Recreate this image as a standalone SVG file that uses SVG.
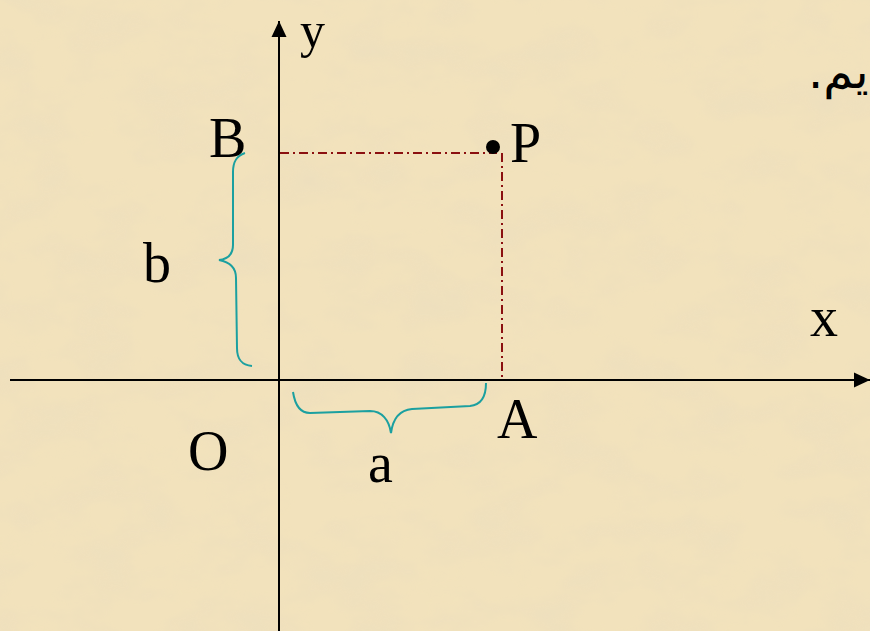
<svg xmlns="http://www.w3.org/2000/svg" width="870" height="631" viewBox="0 0 870 631">
<defs>
<filter id="paper" x="0" y="0" width="100%" height="100%">
<feTurbulence type="fractalNoise" baseFrequency="0.015 0.025" numOctaves="4" seed="7" result="n"/>
<feColorMatrix in="n" type="matrix" values="0 0 0 0 0.82  0 0 0 0 0.72  0 0 0 0 0.52  0 0 0 1.4 -0.55" result="c"/>
<feComposite in="c" in2="SourceGraphic" operator="in"/>
</filter>
<marker id="arrow" viewBox="0 0 16 16" refX="16" refY="8" markerWidth="16" markerHeight="16" markerUnits="userSpaceOnUse" orient="auto">
<path d="M0,0.5 L16,8 L0,15.5 Z" fill="#000"/>
</marker>
</defs>
<style>
.lbl{font-family:"Liberation Serif","Times New Roman",serif;font-size:56px;fill:#000}
.axis{stroke:#000;stroke-width:2;fill:none}
.guide{stroke:#8B1010;stroke-width:2;fill:none;stroke-dasharray:9 4 2 4}
.brace{stroke:#1BA0A0;stroke-width:2;fill:none}
</style>
<rect width="870" height="631" fill="#F2E2BC"/>
<rect width="870" height="631" fill="#F2E2BC" filter="url(#paper)" opacity="0.7"/>
<g id="connectors">
<line class="axis" x1="10" y1="380" x2="870" y2="380" marker-end="url(#arrow)"/>
<line class="axis" x1="279" y1="631" x2="279" y2="21" marker-end="url(#arrow)"/>
<polyline class="guide" points="280,153 497,153"/>
<polyline class="guide" points="502,153 502,379"/>
<path class="brace" d="M245,153 C236,156 233,162 233,172 L233,245 C233,254 228,259 219,260 C230,262 236,268 236,278 L237,348 C237,360 242,365 252,366"/>
<path class="brace" d="M293,392 C295,405 300,413 310,413 L370,411 C382,411 389,420 391,433 C393,418 400,410 412,409 L470,406 C480,405 486,398 486,383"/>
</g>
<g id="point-P">
<circle cx="493" cy="147" r="7" fill="#000"/>
<text class="lbl" x="510" y="162">P</text>
</g>
<g id="label-y"><text class="lbl" x="300" y="47" style="font-size:50px">y</text></g>
<g id="label-x"><text class="lbl" x="810" y="336">x</text></g>
<g id="label-B"><text class="lbl" x="209" y="157">B</text></g>
<g id="label-A"><text class="lbl" x="497" y="438">A</text></g>
<g id="label-O"><text class="lbl" x="188" y="470">O</text></g>
<g id="label-a"><text class="lbl" x="368" y="482">a</text></g>
<g id="label-b"><text class="lbl" x="143" y="282">b</text></g>
<g id="arabic"><text x="808" y="88" direction="rtl" text-anchor="end" style="font-family:'DejaVu Sans','Noto Sans',serif;font-size:48px;fill:#000">يم.</text></g>
</svg>
